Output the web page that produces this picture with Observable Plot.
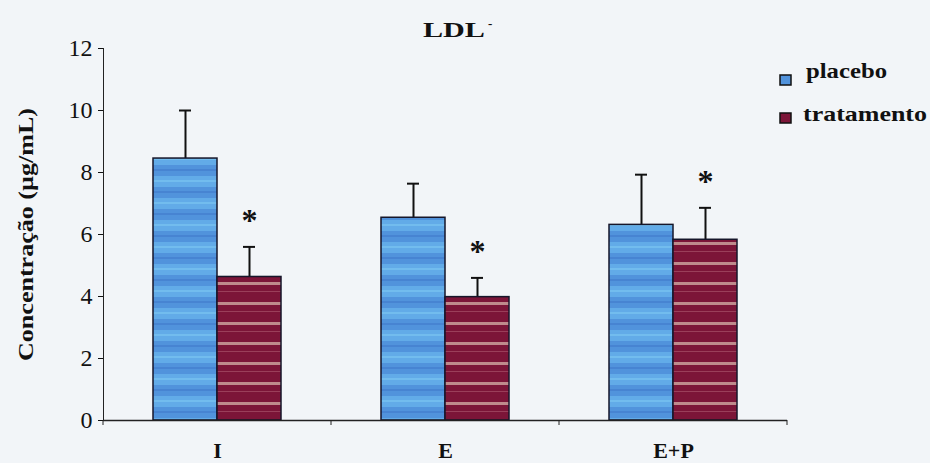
<!DOCTYPE html>
<html><head><meta charset="utf-8">
<script src="https://cdn.jsdelivr.net/npm/d3@7"></script>
<script src="https://cdn.jsdelivr.net/npm/@observablehq/plot@0.6"></script>
<style>
html,body{margin:0;padding:0;background:#f2f5f8;}
#chart{width:930px;height:463px;}
</style></head><body>
<div id="chart"></div>
<script>
// ---- data ----
const categories = ["I", "E", "E+P"];
const series = ["placebo", "tratamento"];
const placeboMean = [8.45, 6.54, 6.31];
const placeboSD = [1.55, 1.10, 1.62];
const tratamentoMean = [4.63, 3.98, 5.83];
const tratamentoSD = [0.97, 0.62, 1.03];
const significant = [true, true, true];
const yTicks = [0, 2, 4, 6, 8, 10, 12];
const titleText = "LDL";
const yLabel = "Concentração (µg/mL)";

const rows = [];
categories.forEach((c, i) => {
  rows.push({cat: c, series: "placebo", mean: placeboMean[i], upper: placeboMean[i] + placeboSD[i], sig: false});
  rows.push({cat: c, series: "tratamento", mean: tratamentoMean[i], upper: tratamentoMean[i] + tratamentoSD[i], sig: significant[i]});
});
const fills = {placebo: "url(#patBlue)", tratamento: "url(#patRed)"};
const serif = "Liberation Serif, Times New Roman, serif";

const plot = Plot.plot({
  width: 930, height: 463,
  marginLeft: 103, marginRight: 143, marginTop: 48, marginBottom: 43,
  style: {background: "transparent", fontFamily: serif, color: "#111"},
  fx: {domain: categories, padding: 0, label: null},
  x: {domain: series, paddingInner: 0, paddingOuter: 0.754, axis: null},
  y: {domain: [0, 12], ticks: yTicks, label: null},
  marks: [
    Plot.axisFx({anchor: "bottom", tickSize: 0, tickPadding: 22, fontSize: 22, fontWeight: "bold", label: null}),
    Plot.axisY({ticks: yTicks, tickSize: 5, tickPadding: 6, fontSize: 24, label: null, strokeWidth: 1}),
    Plot.axisY({ticks: [], label: yLabel, labelAnchor: "center", labelArrow: "none", labelOffset: 86, fontSize: 22, fontWeight: "bold"}),
    Plot.frame({anchor: "left", facetAnchor: "left", stroke: "#222"}),
    Plot.ruleX(rows, {fx: "cat", x: "series", y1: "mean", y2: "upper", stroke: "#111", strokeWidth: 2}),
    Plot.tickY(rows, {fx: "cat", x: "series", y: "upper", stroke: "#111", strokeWidth: 2, insetLeft: 26, insetRight: 26}),
    Plot.barY(rows, {fx: "cat", x: "series", y: "mean", fill: d => fills[d.series], stroke: "#16162a", strokeWidth: 1.5}),
    Plot.ruleY([0], {stroke: "#222", strokeWidth: 1.5}),
    Plot.text(rows.filter(d => d.sig), {fx: "cat", x: "series", y: "upper", text: () => "*", dy: -26, fontSize: 32, fontWeight: "bold", fill: "#111"})
  ]
});

const svg = d3.select(plot);
// patterns
const defs = svg.insert("defs", ":first-child");
const pb = defs.append("pattern").attr("id", "patBlue").attr("patternUnits", "userSpaceOnUse").attr("width", 40).attr("height", 22);
pb.append("rect").attr("width", 40).attr("height", 22).attr("fill", "#5193dc");
pb.append("rect").attr("y", 0).attr("width", 40).attr("height", 11).attr("fill", "#62abe8");
pb.append("rect").attr("y", 4).attr("width", 40).attr("height", 2).attr("fill", "#72bcee");
pb.append("rect").attr("y", 15).attr("width", 40).attr("height", 2).attr("fill", "#4784d2");
const pr = defs.append("pattern").attr("id", "patRed").attr("patternUnits", "userSpaceOnUse").attr("width", 40).attr("height", 20);
pr.append("rect").attr("width", 40).attr("height", 20).attr("fill", "#7c1538");
pr.append("rect").attr("y", 2).attr("width", 40).attr("height", 3).attr("fill", "#bf8a8c");
pr.append("rect").attr("y", 11).attr("width", 40).attr("height", 1).attr("fill", "#9a3f5a");

// stretch the y label to the reference length
svg.selectAll('[aria-label="y-axis label"] text')
  .attr("textLength", 253).attr("lengthAdjust", "spacingAndGlyphs");

// boundary ticks on the category axis, placed through the fx scale
const fx = plot.scale("fx");
const y = plot.scale("y");
const y0 = y.apply(0);
const bounds = categories.map(c => fx.apply(c)).concat([fx.apply(categories[categories.length - 1]) + fx.bandwidth]);
svg.append("g").attr("stroke", "#222").selectAll("line").data(bounds).join("line")
  .attr("x1", d => d).attr("x2", d => d).attr("y1", y0).attr("y2", y0 + 5);

// title
const t = svg.append("text").attr("x", 423).attr("y", 37).attr("text-anchor", "start")
  .attr("font-family", serif).attr("font-weight", "bold").attr("font-size", 22).attr("fill", "#111");
t.append("tspan").attr("textLength", 62).attr("lengthAdjust", "spacingAndGlyphs").text(titleText);
t.append("tspan").attr("dx", 3).attr("dy", -9).attr("font-size", 13).text("-");

// legend
const legColors = {placebo: "#5193dc", tratamento: "#7c1538"};
const legLen = {placebo: 81, tratamento: 124};
const lg = svg.append("g").attr("font-family", serif).attr("font-weight", "bold").attr("font-size", 21)
  .attr("fill", "#111").attr("text-anchor", "start");
series.forEach((s, i) => {
  const yy = 75 + i * 38;
  lg.append("rect").attr("x", 780).attr("y", yy).attr("width", 11).attr("height", 10)
    .attr("fill", legColors[s]).attr("stroke", "#111").attr("stroke-width", 1.5);
  lg.append("text").attr("x", 806 - i * 3).attr("y", yy + 3 + i * 5)
    .attr("textLength", legLen[s]).attr("lengthAdjust", "spacingAndGlyphs").text(s);
});

document.getElementById("chart").appendChild(plot);
</script>
</body></html>
